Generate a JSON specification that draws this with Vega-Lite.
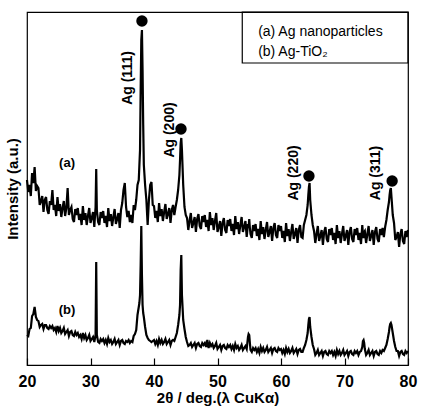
{
  "$schema": "https://vega.github.io/schema/vega-lite/v6.json",
  "width": 381,
  "height": 353,
  "autosize": {"type": "none"},
  "padding": {"left": 27, "top": 12, "right": 16, "bottom": 46},
  "background": "white",
  "config": {
    "view": {"stroke": "black", "strokeWidth": 1.2},
    "font": "Liberation Sans"
  },
  "datasets": {
    "xrd": [
      {"x":20.0,"a":185,"b":30},{"x":20.2,"a":173,"b":29},{"x":20.4,"a":180,"b":36},{"x":20.6,"a":169,"b":37},{"x":20.8,"a":192,"b":49},
      {"x":21.0,"a":182,"b":51},{"x":21.2,"a":198,"b":58},{"x":21.4,"a":174,"b":48},{"x":21.6,"a":179,"b":45},{"x":21.8,"a":177,"b":44},
      {"x":22.0,"a":160,"b":38},{"x":22.2,"a":164,"b":40},{"x":22.4,"a":169,"b":41},{"x":22.6,"a":153,"b":36},{"x":22.8,"a":165,"b":40},
      {"x":23.0,"a":168,"b":40},{"x":23.2,"a":155,"b":37},{"x":23.4,"a":151,"b":36},{"x":23.6,"a":164,"b":39},{"x":23.8,"a":160,"b":37},
      {"x":24.0,"a":175,"b":39},{"x":24.2,"a":155,"b":35},{"x":24.4,"a":160,"b":37},{"x":24.6,"a":149,"b":33},{"x":24.8,"a":168,"b":39},
      {"x":25.0,"a":154,"b":34},{"x":25.2,"a":161,"b":37},{"x":25.4,"a":148,"b":32},{"x":25.6,"a":157,"b":34},{"x":25.8,"a":164,"b":37},
      {"x":26.0,"a":149,"b":31},{"x":26.2,"a":157,"b":33},{"x":26.4,"a":177,"b":35},{"x":26.6,"a":150,"b":29},{"x":26.8,"a":155,"b":33},
      {"x":27.0,"a":158,"b":34},{"x":27.2,"a":146,"b":30},{"x":27.4,"a":143,"b":29},{"x":27.6,"a":156,"b":33},{"x":27.8,"a":150,"b":30},
      {"x":28.0,"a":157,"b":32},{"x":28.2,"a":145,"b":28},{"x":28.4,"a":151,"b":30},{"x":28.6,"a":140,"b":26},{"x":28.8,"a":159,"b":32},
      {"x":29.0,"a":145,"b":27},{"x":29.2,"a":152,"b":30},{"x":29.4,"a":140,"b":25},{"x":29.6,"a":149,"b":27},{"x":29.8,"a":157,"b":30},
      {"x":30.0,"a":142,"b":24},{"x":30.2,"a":147,"b":26},{"x":30.4,"a":153,"b":28},{"x":30.6,"a":138,"b":23},{"x":30.8,"a":158,"b":30},
      {"x":30.9,"a":196,"b":103},{"x":31.0,"a":155,"b":30},
      {"x":31.2,"a":143,"b":23},{"x":31.4,"a":140,"b":22},{"x":31.6,"a":153,"b":26},{"x":31.8,"a":147,"b":24},
      {"x":32.0,"a":154,"b":26},{"x":32.2,"a":142,"b":22},{"x":32.4,"a":149,"b":25},{"x":32.6,"a":138,"b":21},{"x":32.8,"a":157,"b":27},
      {"x":33.0,"a":144,"b":23},{"x":33.2,"a":151,"b":25},{"x":33.4,"a":139,"b":21},{"x":33.6,"a":148,"b":23},{"x":33.8,"a":156,"b":26},
      {"x":34.0,"a":141,"b":21},{"x":34.2,"a":146,"b":23},{"x":34.4,"a":152,"b":25},{"x":34.6,"a":137,"b":20},{"x":34.8,"a":155,"b":24},
      {"x":35.0,"a":162,"b":25},{"x":35.2,"a":175,"b":22},{"x":35.4,"a":182,"b":21},{"x":35.6,"a":158,"b":24},{"x":35.8,"a":148,"b":23},
      {"x":36.0,"a":154,"b":25},{"x":36.2,"a":143,"b":22},{"x":36.4,"a":150,"b":24},{"x":36.6,"a":142,"b":23},{"x":36.8,"a":160,"b":29},
      {"x":37.0,"a":155,"b":31},{"x":37.2,"a":165,"b":35},{"x":37.4,"a":180,"b":50},{"x":37.6,"a":185,"b":58},{"x":37.7,"a":200,"b":62},
      {"x":37.8,"a":215,"b":70},{"x":37.9,"a":275,"b":100},{"x":38.0,"a":325,"b":139},{"x":38.1,"a":335,"b":90},{"x":38.2,"a":295,"b":60},
      {"x":38.3,"a":240,"b":52},{"x":38.4,"a":200,"b":48},{"x":38.6,"a":180,"b":38},{"x":38.8,"a":165,"b":30},{"x":39.0,"a":140,"b":27},
      {"x":39.2,"a":165,"b":25},{"x":39.4,"a":180,"b":24},{"x":39.6,"a":183,"b":23},{"x":39.8,"a":160,"b":24},
      {"x":40.0,"a":159,"b":25},{"x":40.2,"a":147,"b":21},{"x":40.4,"a":154,"b":24},{"x":40.6,"a":143,"b":20},{"x":40.8,"a":162,"b":26},
      {"x":41.0,"a":149,"b":22},{"x":41.2,"a":156,"b":25},{"x":41.4,"a":144,"b":21},{"x":41.6,"a":153,"b":23},{"x":41.8,"a":161,"b":26},
      {"x":42.0,"a":146,"b":21},{"x":42.2,"a":151,"b":23},{"x":42.4,"a":157,"b":25},{"x":42.6,"a":142,"b":20},{"x":42.8,"a":155,"b":24},
      {"x":43.0,"a":160,"b":25},{"x":43.2,"a":150,"b":24},{"x":43.4,"a":158,"b":28},{"x":43.6,"a":165,"b":32},{"x":43.8,"a":175,"b":40},
      {"x":44.0,"a":190,"b":50},{"x":44.1,"a":205,"b":60},{"x":44.2,"a":222,"b":95},{"x":44.3,"a":227,"b":110},{"x":44.4,"a":215,"b":70},
      {"x":44.6,"a":180,"b":45},{"x":44.8,"a":158,"b":36},{"x":45.0,"a":150,"b":28},{"x":45.2,"a":147,"b":23},{"x":45.4,"a":135,"b":19},
      {"x":45.6,"a":144,"b":20},{"x":45.8,"a":152,"b":22},{"x":46.0,"a":137,"b":18},{"x":46.2,"a":142,"b":20},{"x":46.4,"a":148,"b":22},
      {"x":46.6,"a":133,"b":17},{"x":46.8,"a":146,"b":21},{"x":47.0,"a":151,"b":22},{"x":47.2,"a":139,"b":19},{"x":47.4,"a":136,"b":18},
      {"x":47.6,"a":149,"b":22},{"x":47.8,"a":143,"b":20},{"x":48.0,"a":150,"b":22},{"x":48.2,"a":138,"b":18},{"x":48.4,"a":145,"b":25},
      {"x":48.6,"a":134,"b":17},{"x":48.8,"a":153,"b":22},{"x":49.0,"a":140,"b":19},{"x":49.2,"a":147,"b":21},{"x":49.4,"a":135,"b":17},
      {"x":49.6,"a":144,"b":19},{"x":49.8,"a":152,"b":22},{"x":50.0,"a":133,"b":16},{"x":50.2,"a":138,"b":18},{"x":50.4,"a":144,"b":20},
      {"x":50.6,"a":129,"b":15},{"x":50.8,"a":142,"b":19},{"x":51.0,"a":147,"b":20},{"x":51.2,"a":135,"b":17},{"x":51.4,"a":132,"b":16},
      {"x":51.6,"a":145,"b":20},{"x":51.8,"a":139,"b":18},{"x":52.0,"a":146,"b":20},{"x":52.2,"a":134,"b":16},{"x":52.4,"a":141,"b":19},
      {"x":52.6,"a":130,"b":15},{"x":52.8,"a":149,"b":21},{"x":53.0,"a":136,"b":17},{"x":53.2,"a":143,"b":19},{"x":53.4,"a":131,"b":15},
      {"x":53.6,"a":140,"b":17},{"x":53.8,"a":148,"b":20},{"x":54.0,"a":133,"b":15},{"x":54.2,"a":138,"b":17},{"x":54.4,"a":144,"b":19},
      {"x":54.6,"a":128,"b":16},{"x":54.8,"a":141,"b":28},{"x":54.9,"a":138,"b":31},{"x":55.0,"a":146,"b":30},{"x":55.1,"a":137,"b":22},
      {"x":55.2,"a":131,"b":15},{"x":55.4,"a":127,"b":13},{"x":55.6,"a":140,"b":17},{"x":55.8,"a":134,"b":15},{"x":56.0,"a":141,"b":17},
      {"x":56.2,"a":129,"b":13},{"x":56.4,"a":136,"b":16},{"x":56.6,"a":125,"b":12},{"x":56.8,"a":144,"b":18},{"x":57.0,"a":131,"b":14},
      {"x":57.2,"a":138,"b":17},{"x":57.4,"a":126,"b":13},{"x":57.6,"a":135,"b":15},{"x":57.8,"a":143,"b":18},{"x":58.0,"a":128,"b":13},
      {"x":58.2,"a":133,"b":15},{"x":58.4,"a":139,"b":17},{"x":58.6,"a":124,"b":12},{"x":58.8,"a":137,"b":16},{"x":59.0,"a":142,"b":17},
      {"x":59.2,"a":130,"b":14},{"x":59.4,"a":127,"b":13},{"x":59.6,"a":140,"b":17},{"x":59.8,"a":134,"b":15},{"x":60.0,"a":139,"b":16},
      {"x":60.2,"a":127,"b":12},{"x":60.4,"a":134,"b":15},{"x":60.6,"a":123,"b":11},{"x":60.8,"a":142,"b":17},{"x":61.0,"a":129,"b":13},
      {"x":61.2,"a":136,"b":16},{"x":61.4,"a":124,"b":12},{"x":61.6,"a":133,"b":14},{"x":61.8,"a":141,"b":17},{"x":62.0,"a":126,"b":12},
      {"x":62.2,"a":131,"b":14},{"x":62.4,"a":137,"b":16},{"x":62.6,"a":122,"b":11},{"x":62.8,"a":135,"b":15},{"x":63.0,"a":140,"b":16},
      {"x":63.2,"a":128,"b":13},{"x":63.4,"a":127,"b":13},{"x":63.6,"a":140,"b":17},{"x":63.8,"a":145,"b":20},{"x":64.0,"a":150,"b":25},
      {"x":64.2,"a":160,"b":32},{"x":64.3,"a":170,"b":40},{"x":64.4,"a":178,"b":46},{"x":64.5,"a":182,"b":48},{"x":64.6,"a":165,"b":38},
      {"x":64.8,"a":150,"b":28},{"x":65.0,"a":140,"b":20},{"x":65.2,"a":134,"b":16},{"x":65.4,"a":122,"b":10},{"x":65.6,"a":131,"b":12},
      {"x":65.8,"a":139,"b":15},{"x":66.0,"a":124,"b":10},{"x":66.2,"a":129,"b":12},{"x":66.4,"a":135,"b":14},{"x":66.6,"a":120,"b":9},
      {"x":66.8,"a":133,"b":13},{"x":67.0,"a":138,"b":14},{"x":67.2,"a":126,"b":11},{"x":67.4,"a":123,"b":10},{"x":67.6,"a":136,"b":14},
      {"x":67.8,"a":130,"b":12},{"x":68.0,"a":137,"b":14},{"x":68.2,"a":125,"b":10},{"x":68.4,"a":132,"b":13},{"x":68.6,"a":121,"b":9},
      {"x":68.8,"a":140,"b":15},{"x":69.0,"a":127,"b":11},{"x":69.2,"a":134,"b":14},{"x":69.4,"a":122,"b":10},{"x":69.6,"a":131,"b":12},
      {"x":69.8,"a":139,"b":15},{"x":70.0,"a":124,"b":10},{"x":70.2,"a":129,"b":12},{"x":70.4,"a":135,"b":14},{"x":70.6,"a":120,"b":9},
      {"x":70.8,"a":133,"b":13},{"x":71.0,"a":138,"b":14},{"x":71.2,"a":126,"b":11},{"x":71.4,"a":123,"b":10},{"x":71.6,"a":136,"b":14},
      {"x":71.8,"a":130,"b":12},{"x":72.0,"a":137,"b":14},{"x":72.2,"a":125,"b":10},{"x":72.4,"a":132,"b":13},{"x":72.6,"a":121,"b":14},
      {"x":72.8,"a":140,"b":18},{"x":72.9,"a":131,"b":24},{"x":73.0,"a":127,"b":25},{"x":73.1,"a":133,"b":22},{"x":73.2,"a":134,"b":16},
      {"x":73.4,"a":122,"b":10},{"x":73.6,"a":131,"b":12},{"x":73.8,"a":139,"b":15},{"x":74.0,"a":124,"b":10},{"x":74.2,"a":129,"b":12},
      {"x":74.4,"a":135,"b":14},{"x":74.6,"a":120,"b":9},{"x":74.8,"a":133,"b":13},{"x":75.0,"a":138,"b":14},{"x":75.2,"a":126,"b":11},
      {"x":75.4,"a":123,"b":10},{"x":75.6,"a":136,"b":14},{"x":75.8,"a":130,"b":12},{"x":76.0,"a":137,"b":15},{"x":76.2,"a":128,"b":14},
      {"x":76.4,"a":138,"b":17},{"x":76.6,"a":145,"b":20},{"x":76.8,"a":155,"b":26},{"x":77.0,"a":163,"b":33},{"x":77.1,"a":170,"b":38},
      {"x":77.2,"a":175,"b":41},{"x":77.3,"a":177,"b":42},{"x":77.4,"a":168,"b":40},{"x":77.6,"a":150,"b":32},{"x":77.8,"a":142,"b":24},
      {"x":78.0,"a":125,"b":18},{"x":78.2,"a":128,"b":14},{"x":78.4,"a":133,"b":14},{"x":78.6,"a":118,"b":9},{"x":78.8,"a":131,"b":13},
      {"x":79.0,"a":136,"b":14},{"x":79.2,"a":124,"b":11},{"x":79.4,"a":121,"b":10},{"x":79.6,"a":134,"b":14},{"x":79.8,"a":128,"b":12},
      {"x":80.0,"a":135,"b":14}
    ],
    "peaks": [
      {"x":38.1,"y":344,"lx":35.9,"ly":287,"label":"Ag (111)"},
      {"x":44.25,"y":236,"lx":42.5,"ly":235,"label":"Ag (200)"},
      {"x":64.4,"y":189,"lx":62.0,"ly":192,"label":"Ag (220)"},
      {"x":77.5,"y":184,"lx":75.0,"ly":192,"label":"Ag (311)"}
    ],
    "series": [
      {"x":26.3,"y":202,"label":"(a)"},
      {"x":26.3,"y":55,"label":"(b)"}
    ],
    "box": [{"x1":53.9,"x2":80,"y1":302,"y2":353}],
    "legend": [
      {"x":56.4,"y":333,"label":"(a) Ag nanoparticles"},
      {"x":56.4,"y":313,"label":"(b) Ag-TiO₂"}
    ]
  },
  "layer": [
    {
      "data": {"name": "xrd"},
      "mark": {"type": "line", "color": "black", "strokeWidth": 2.2, "interpolate": "linear"},
      "encoding": {
        "x": {"field": "x", "type": "quantitative",
              "scale": {"domain": [20, 80], "nice": false, "zero": false},
              "axis": {"values": [20,30,40,50,60,70,80], "tickSize": -7, "tickColor": "black", "tickWidth": 1.2,
                       "domain": false, "grid": false, "labelFlush": false, "labelOverlap": false,
                       "labelFont": "Liberation Sans", "labelFontSize": 16,
                       "labelFontWeight": "bold", "labelColor": "black", "labelPadding": 15,
                       "title": "2θ / deg.(λ CuKα)", "titleFont": "Liberation Sans", "titleFontSize": 15,
                       "titleFontWeight": "bold", "titleColor": "black", "titlePadding": 1}},
        "y": {"field": "a", "type": "quantitative",
              "scale": {"domain": [0, 353], "nice": false},
              "axis": {"labels": false, "ticks": false, "domain": false, "grid": false,
                       "title": "Intensity (a.u.)", "titleFont": "Liberation Sans", "titleFontSize": 15,
                       "titleFontWeight": "bold", "titleColor": "black", "titlePadding": 7}}
      }
    },
    {
      "data": {"name": "xrd"},
      "mark": {"type": "line", "color": "black", "strokeWidth": 2.2},
      "encoding": {
        "x": {"field": "x", "type": "quantitative", "scale": {"domain": [20, 80], "nice": false, "zero": false}},
        "y": {"field": "b", "type": "quantitative", "scale": {"domain": [0, 353], "nice": false}}
      }
    },
    {
      "data": {"name": "peaks"},
      "mark": {"type": "point", "filled": true, "color": "black", "opacity": 1, "size": 130},
      "encoding": {
        "x": {"field": "x", "type": "quantitative", "scale": {"domain": [20, 80], "nice": false, "zero": false}},
        "y": {"field": "y", "type": "quantitative", "scale": {"domain": [0, 353], "nice": false}}
      }
    },
    {
      "data": {"name": "peaks"},
      "mark": {"type": "text", "angle": 270, "align": "center", "baseline": "middle", "font": "Liberation Sans",
               "fontSize": 14, "fontWeight": "bold", "color": "black"},
      "encoding": {
        "x": {"field": "lx", "type": "quantitative", "scale": {"domain": [20, 80], "nice": false, "zero": false}},
        "y": {"field": "ly", "type": "quantitative", "scale": {"domain": [0, 353], "nice": false}},
        "text": {"field": "label"}
      }
    },
    {
      "data": {"name": "series"},
      "mark": {"type": "text", "align": "center", "baseline": "middle", "font": "Liberation Sans",
               "fontSize": 13, "fontWeight": "bold", "color": "black"},
      "encoding": {
        "x": {"field": "x", "type": "quantitative", "scale": {"domain": [20, 80], "nice": false, "zero": false}},
        "y": {"field": "y", "type": "quantitative", "scale": {"domain": [0, 353], "nice": false}},
        "text": {"field": "label"}
      }
    },
    {
      "data": {"name": "box"},
      "mark": {"type": "rect", "fill": "white", "fillOpacity": 0, "stroke": "black", "strokeWidth": 1.2},
      "encoding": {
        "x": {"field": "x1", "type": "quantitative", "scale": {"domain": [20, 80], "nice": false, "zero": false}},
        "x2": {"field": "x2"},
        "y": {"field": "y1", "type": "quantitative", "scale": {"domain": [0, 353], "nice": false}},
        "y2": {"field": "y2"}
      }
    },
    {
      "data": {"name": "legend"},
      "mark": {"type": "text", "align": "left", "baseline": "middle", "font": "Liberation Sans",
               "fontSize": 14, "color": "black"},
      "encoding": {
        "x": {"field": "x", "type": "quantitative", "scale": {"domain": [20, 80], "nice": false, "zero": false}},
        "y": {"field": "y", "type": "quantitative", "scale": {"domain": [0, 353], "nice": false}},
        "text": {"field": "label"}
      }
    }
  ]
}
